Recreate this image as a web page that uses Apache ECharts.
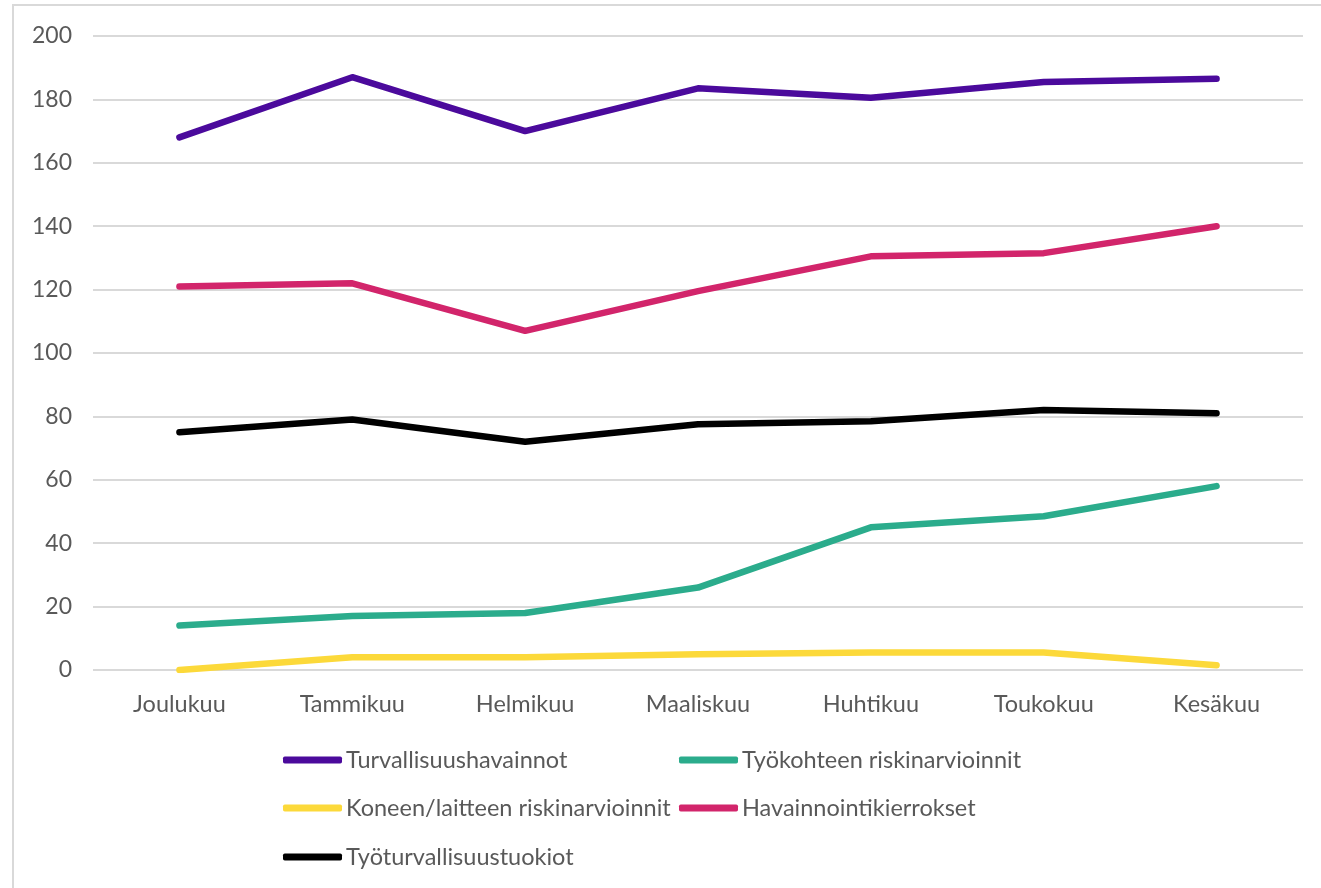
<!DOCTYPE html>
<html>
<head>
<meta charset="utf-8">
<script src="https://cdn.jsdelivr.net/npm/echarts@6/dist/echarts.min.js"></script>
<style>
html,body{margin:0;padding:0;background:#fff;}
#chart{width:1321px;height:888px;}
</style>
</head>
<body>
<div id="chart"></div>
<script>
var categories = ['Joulukuu','Tammikuu','Helmikuu','Maaliskuu','Huhtikuu','Toukokuu','Kesäkuu'];
var yTicks = [0, 20, 40, 60, 80, 100, 120, 140, 160, 180, 200];
var turvallisuushavainnot = [168, 187, 170, 183.5, 180.5, 185.5, 186.5];
var tyokohteenRiskinarvioinnit = [14, 17, 18, 26, 45, 48.5, 58];
var koneenRiskinarvioinnit = [0, 4, 4, 5, 5.5, 5.5, 1.5];
var havainnointikierrokset = [121, 122, 107, 119.5, 130.5, 131.5, 140];
var tyoturvallisuustuokiot = [75, 79, 72, 77.5, 78.5, 82, 81];

var seriesDefs = [
  {name:'Turvallisuushavainnot', data:turvallisuushavainnot, color:'#4b0a9c'},
  {name:'Työkohteen riskinarvioinnit', data:tyokohteenRiskinarvioinnit, color:'#2bac8c'},
  {name:'Koneen/laitteen riskinarvioinnit', data:koneenRiskinarvioinnit, color:'#fcd93a'},
  {name:'Havainnointikierrokset', data:havainnointikierrokset, color:'#d2256b'},
  {name:'Työturvallisuustuokiot', data:tyoturvallisuustuokiot, color:'#000000'}
];

var FONT = 'Lato';
var legendPos = [
  {left:283, top:745},
  {left:679, top:745},
  {left:283, top:793},
  {left:679, top:793},
  {left:283, top:842}
];

var legends = seriesDefs.map(function(s, i){
  return {
    data:[s.name],
    left:legendPos[i].left,
    top:legendPos[i].top,
    orient:'horizontal',
    icon:'roundRect',
    itemWidth:59,
    itemHeight:7,
    padding:0,
    selectedMode:false,
    textStyle:{fontFamily:FONT, fontSize:23.5, color:'#595959', lineHeight:30, padding:[0,0,0,-1]}
  };
});

var chart = echarts.init(document.getElementById('chart'));
chart.setOption({
  animation:false,
  backgroundColor:'#fff',
  graphic:[{
    type:'rect',
    shape:{x:13, y:5, width:1400, height:1000},
    style:{fill:'none', stroke:'#d9d9d9', lineWidth:2},
    silent:true
  }],
  grid:{left:93, right:18, top:36, bottom:218, containLabel:false},
  legend:legends,
  xAxis:{
    type:'category',
    data:categories,
    boundaryGap:true,
    axisLine:{show:false},
    axisTick:{show:false},
    axisLabel:{fontFamily:FONT, fontSize:23.5, color:'#595959', margin:22}
  },
  yAxis:{
    type:'value',
    min:yTicks[0],
    max:yTicks[yTicks.length-1],
    interval:yTicks[1]-yTicks[0],
    axisLine:{show:false},
    axisTick:{show:false},
    splitLine:{lineStyle:{color:'#d9d9d9', width:2}},
    axisLabel:{fontFamily:FONT, fontSize:23, color:'#595959', margin:21}
  },
  series:seriesDefs.map(function(s){
    return {
      name:s.name,
      type:'line',
      data:s.data,
      symbol:'none',
      color:s.color,
      lineStyle:{color:s.color, width:6.5, cap:'round', join:'round'},
      itemStyle:{color:s.color}
    };
  })
});
</script>
</body>
</html>
